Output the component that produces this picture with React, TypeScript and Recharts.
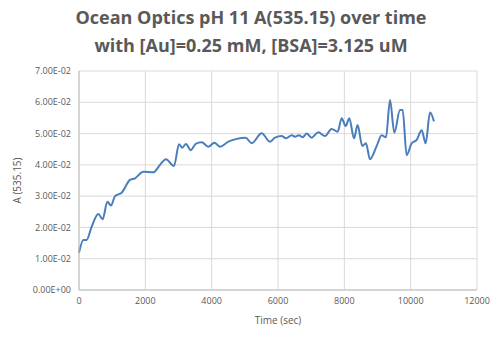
import React from "react";
import { LineChart, Line, XAxis, YAxis, CartesianGrid } from "recharts";

const times = [0, 130, 230, 380, 583, 713, 855, 965, 1085, 1287, 1538, 1688, 1940, 2240, 2442, 2623, 2864, 3015, 3115, 3226, 3367, 3518, 3699, 3899, 4080, 4251, 4502, 4754, 5025, 5206, 5508, 5759, 5910, 6111, 6241, 6413, 6513, 6634, 6744, 6865, 7015, 7216, 7417, 7618, 7799, 7919, 8040, 8150, 8291, 8401, 8542, 8652, 8773, 8974, 9125, 9256, 9377, 9507, 9678, 9758, 9879, 10030, 10181, 10332, 10452, 10583, 10703];
const absorbance = [0.0119, 0.016, 0.016, 0.0202, 0.0243, 0.0226, 0.0282, 0.027, 0.03, 0.0311, 0.0352, 0.0357, 0.0378, 0.0376, 0.04, 0.0418, 0.0396, 0.0466, 0.0455, 0.0467, 0.0447, 0.0467, 0.0472, 0.0458, 0.0471, 0.0458, 0.0474, 0.0483, 0.0487, 0.0469, 0.0501, 0.0474, 0.0487, 0.0492, 0.0485, 0.0495, 0.049, 0.0495, 0.0488, 0.05, 0.0487, 0.0504, 0.0492, 0.0515, 0.0506, 0.0549, 0.0524, 0.0549, 0.0485, 0.0527, 0.046, 0.0469, 0.0418, 0.046, 0.0495, 0.0488, 0.0607, 0.0503, 0.0575, 0.0575, 0.0431, 0.0469, 0.048, 0.0511, 0.0469, 0.0567, 0.0539];
const xTicks = [0, 2000, 4000, 6000, 8000, 10000, 12000];
const yTicks = [0, 0.01, 0.02, 0.03, 0.04, 0.05, 0.06, 0.07];
const titleLines = ["Ocean Optics pH 11 A(535.15) over time", "with [Au]=0.25 mM, [BSA]=3.125 uM"];

const data = times.map((t, i) => ({ t, a: absorbance[i] }));

const fmtSci = (v: number) => {
  if (v === 0) return "0.00E+00";
  const [m, e] = v.toExponential(2).split("e");
  const n = parseInt(e, 10);
  const sign = n < 0 ? "-" : "+";
  const abs = Math.abs(n).toString().padStart(2, "0");
  return `${m}E${sign}${abs}`;
};

const font = "'Open Sans', sans-serif";
const gray = "#595959";

export default function App() {
  return (
    <div style={{ position: "absolute", left: 0, top: 0, width: 502, height: 339, background: "#fff", fontFamily: font }}>
      <div style={{ position: "absolute", left: 0, top: 3, width: 502, textAlign: "center", color: gray, fontWeight: 700, fontSize: 18, lineHeight: "28px" }}>
        {titleLines.map((l) => (
          <div key={l}>{l}</div>
        ))}
      </div>
      <LineChart width={502} height={339} data={data} margin={{ top: 71, right: 25, bottom: 19, left: 19 }}>
        <CartesianGrid stroke="#d9d9d9" strokeWidth={1} />
        <XAxis
          dataKey="t"
          type="number"
          domain={[0, 12000]}
          ticks={xTicks}
          height={30}
          tickLine={false}
          axisLine={{ stroke: "#bfbfbf" }}
          tick={{ fill: gray, fontSize: 9, fontFamily: font }}
          label={{ value: "Time (sec)", position: "insideBottom", offset: -4, fill: gray, fontSize: 10, fontFamily: font }}
        />
        <YAxis
          type="number"
          domain={[0, 0.07]}
          ticks={yTicks}
          width={60}
          tickLine={false}
          axisLine={{ stroke: "#bfbfbf" }}
          tickFormatter={fmtSci}
          tick={{ fill: gray, fontSize: 9, fontFamily: font }}
          label={{ value: "A (535.15)", angle: -90, position: "insideLeft", offset: -2, fill: gray, fontSize: 10, fontFamily: font, style: { textAnchor: "middle" } }}
        />
        <Line type="monotone" dataKey="a" stroke="#4a7ebb" strokeWidth={2} dot={false} isAnimationActive={false} />
      </LineChart>
    </div>
  );
}
